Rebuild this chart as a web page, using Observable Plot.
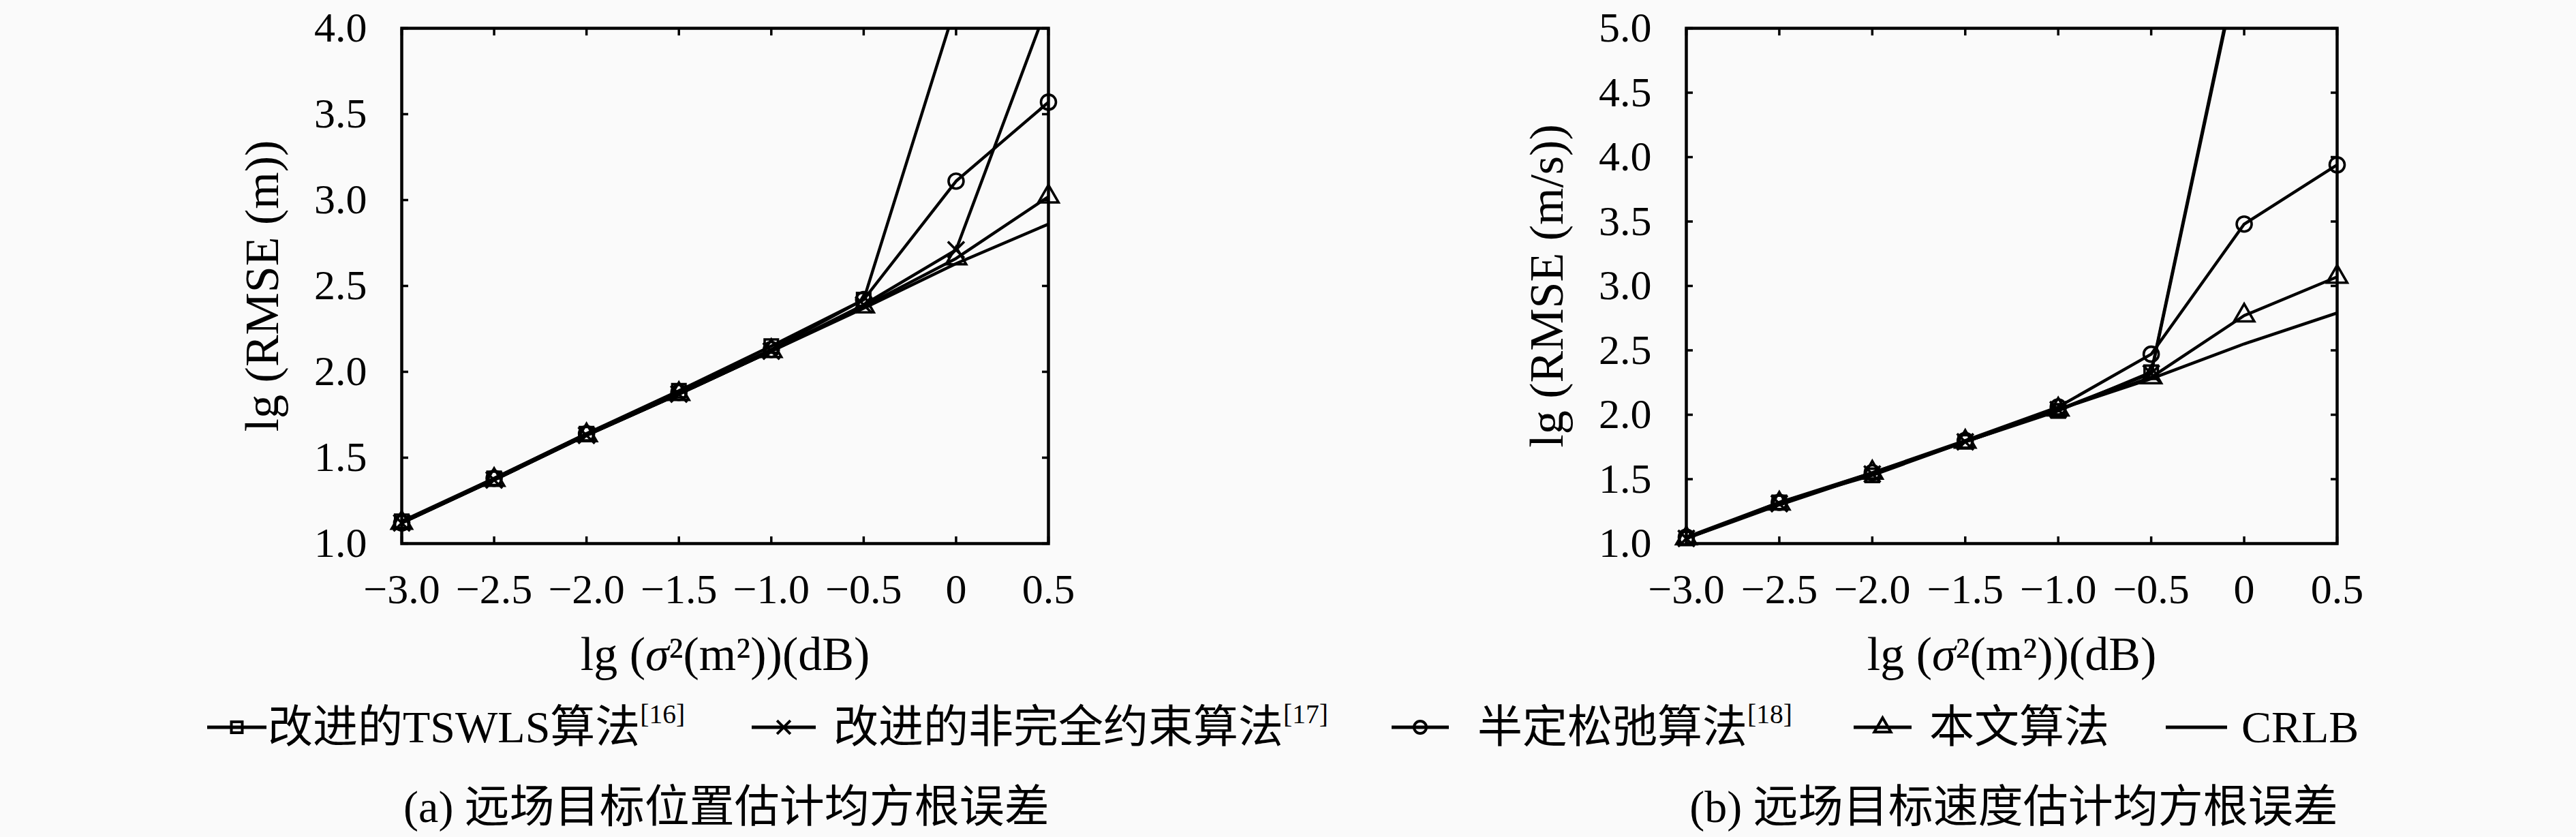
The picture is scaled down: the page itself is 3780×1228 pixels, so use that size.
<!DOCTYPE html>
<html>
<head>
<meta charset="utf-8">
<script src="https://cdn.jsdelivr.net/npm/d3@7"></script>
<script src="https://cdn.jsdelivr.net/npm/@observablehq/plot@0.6"></script>
<style>
  html, body { margin: 0; padding: 0; background: #fafafa; }
  #page { position: relative; width: 3780px; height: 1228px; overflow: hidden;
          font-family: "Liberation Serif", "Noto Sans CJK SC", serif; color: #000; }
  .panel { position: absolute; top: 0; }
  .swatch { position: absolute; top: 1047px; }
  .leg { position: absolute; top: 1027px; height: 80px; line-height: 80px; font-size: 66px; white-space: nowrap; }
  .leg .sup { font-size: 0.6em; position: relative; top: -0.7em; }
  .cap { position: absolute; top: 1144px; height: 80px; line-height: 80px; font-size: 66px;
         white-space: nowrap; transform: translateX(-50%); }
</style>
</head>
<body>
<div id="page"></div>
<script>
// x 轴: lg(σ²)
const xs = [-3, -2.5, -2, -1.5, -1, -0.5, 0, 0.5];

const seriesNames = ["改进的TSWLS算法", "改进的非完全约束算法", "半定松弛算法", "本文算法", "CRLB"];
const seriesRefs = ["[16]", "[17]", "[18]", "", ""];
const seriesSymbols = ["square", "times", "circle", "triangle"];

// (a) 位置估计 lg(RMSE (m))
const posTswls = [1.13, 1.38, 1.64, 1.89, 2.15, 2.42, 4.14, 5.5];
const posNc    = [1.12, 1.37, 1.63, 1.87, 2.12, 2.39, 2.71, 4.15];
const posSdp   = [1.12, 1.38, 1.64, 1.88, 2.13, 2.42, 3.11, 3.57];
const posOurs  = [1.12, 1.37, 1.63, 1.87, 2.12, 2.38, 2.66, 3.02];
const posCrlb  = [1.12, 1.37, 1.63, 1.87, 2.12, 2.37, 2.63, 2.86];

// (b) 速度估计 lg(RMSE (m/s))
const velTswls = [1.04, 1.32, 1.53, 1.79, 2.03, 2.33, 5.73, 7.0];
const velNc    = [1.04, 1.31, 1.54, 1.79, 2.04, 2.32, 5.70, 7.0];
const velSdp   = [1.05, 1.32, 1.55, 1.80, 2.06, 2.47, 3.48, 3.94];
const velOurs  = [1.04, 1.31, 1.55, 1.79, 2.04, 2.29, 2.77, 3.07];
const velCrlb  = [1.04, 1.30, 1.54, 1.79, 2.04, 2.28, 2.55, 2.79];

const yTicksPos = [1.0, 1.5, 2.0, 2.5, 3.0, 3.5, 4.0];
const yTicksVel = [1.0, 1.5, 2.0, 2.5, 3.0, 3.5, 4.0, 4.5, 5.0];

const xTitle = "lg (σ²(m²))(dB)";
const fmtX = d => d === 0 ? "0" : d.toFixed(1).replace("-", "−");
const fmtY = d => d.toFixed(1);

function panel(series, yDomain, yTicks, yTitle, ml, mr) {
  const rows = [];
  series.forEach((vals, i) => vals.forEach((v, j) => rows.push({x: xs[j], y: v, s: seriesNames[i]})));
  const dots = rows.filter(d => d.s !== "CRLB" && d.y <= yDomain[1]);
  const svg = Plot.plot({
    width: 1890,
    height: 1010,
    marginLeft: ml,
    marginRight: mr,
    marginTop: 41,
    marginBottom: 213,
    x: {domain: [-3, 0.5], label: null},
    y: {domain: yDomain, label: null},
    symbol: {domain: seriesNames.slice(0, 4), range: seriesSymbols},
    style: {background: "transparent", fontFamily: "Liberation Serif", color: "#000", overflow: "visible"},
    marks: [
      Plot.line(rows, {x: "x", y: "y", z: "s", stroke: "#000", strokeWidth: 4.4, clip: true}),
      Plot.dot(dots, {x: "x", y: "y", symbol: "s", r: 11, stroke: "#000", strokeWidth: 3.6, fill: "none"}),
      Plot.frame({stroke: "#000", strokeWidth: 4.5}),
      // inward ticks on all four sides
      Plot.axisX({anchor: "bottom", ticks: xs, tickSize: 10, dy: -10, strokeWidth: 3.5, tickFormat: () => "", label: null}),
      Plot.axisX({anchor: "top", ticks: xs, tickSize: 10, dy: 10, strokeWidth: 3.5, tickFormat: () => "", label: null}),
      Plot.axisY({anchor: "left", ticks: yTicks, tickSize: 10, dx: 10, strokeWidth: 3.5, tickFormat: () => "", label: null}),
      Plot.axisY({anchor: "right", ticks: yTicks, tickSize: 10, dx: -10, strokeWidth: 3.5, tickFormat: () => "", label: null}),
      // tick labels
      Plot.axisX({anchor: "bottom", ticks: xs, tickSize: 0, tickPadding: 43, tickFormat: fmtX, fontSize: 62, label: null}),
      Plot.axisY({anchor: "left", ticks: yTicks, tickSize: 0, tickPadding: 51, tickFormat: fmtY, fontSize: 62, label: null}),
      // axis titles
      Plot.text([yTitle], {text: d => d, frameAnchor: "left", dx: -204, rotate: -90, fontSize: 70, textAnchor: "middle", lineAnchor: "middle"}),
      Plot.text([xTitle], {text: d => d, frameAnchor: "bottom", dy: 163, fontSize: 70, lineAnchor: "middle"})
    ]
  });
  // italic sigma in the x title
  d3.select(svg).selectAll("text").filter(function () { return this.textContent === xTitle; })
    .each(function () {
      const t = d3.select(this).text(null);
      t.append("tspan").text("lg (");
      t.append("tspan").attr("font-style", "italic").text("σ");
      t.append("tspan").text("²(m²))(dB)");
    });
  return svg;
}

const page = d3.select("#page");

page.append("div").attr("class", "panel").style("left", "0px")
  .node().append(panel([posTswls, posNc, posSdp, posOurs, posCrlb], [1, 4], yTicksPos, "lg (RMSE (m))", 589, 352));
page.append("div").attr("class", "panel").style("left", "1890px")
  .node().append(panel([velTswls, velNc, velSdp, velOurs, velCrlb], [1, 5], yTicksVel, "lg (RMSE (m/s))", 584, 351));

// legend
const legendLayout = [
  {line: 304, len: 87, text: 393},
  {line: 1103, len: 94, text: 1223},
  {line: 2042, len: 84, text: 2168},
  {line: 2720, len: 85, text: 2831},
  {line: 3178, len: 90, text: 3289}
];
const d3Symbols = {square: d3.symbolSquare, times: d3.symbolTimes, circle: d3.symbolCircle, triangle: d3.symbolTriangle};

seriesNames.forEach((name, i) => {
  const L = legendLayout[i];
  const sw = page.append("svg").attr("class", "swatch")
    .style("left", L.line + "px").attr("width", L.len).attr("height", 40);
  sw.append("line").attr("x1", 0).attr("x2", L.len).attr("y1", 20).attr("y2", 20)
    .attr("stroke", "#000").attr("stroke-width", 5);
  if (seriesSymbols[i]) {
    sw.append("path").attr("transform", `translate(${L.len / 2},20)`)
      .attr("d", d3.symbol(d3Symbols[seriesSymbols[i]], 9 * 9 * Math.PI)())
      .attr("fill", "none").attr("stroke", "#000").attr("stroke-width", 4);
  }
  const t = page.append("div").attr("class", "leg").style("left", L.text + "px");
  t.append("span").text(name);
  if (seriesRefs[i]) t.append("span").attr("class", "sup").text(seriesRefs[i]);
});

// captions
page.append("div").attr("class", "cap").style("left", "1066px").text("(a) 远场目标位置估计均方根误差");
page.append("div").attr("class", "cap").style("left", "2955px").text("(b) 远场目标速度估计均方根误差");
</script>
</body>
</html>
